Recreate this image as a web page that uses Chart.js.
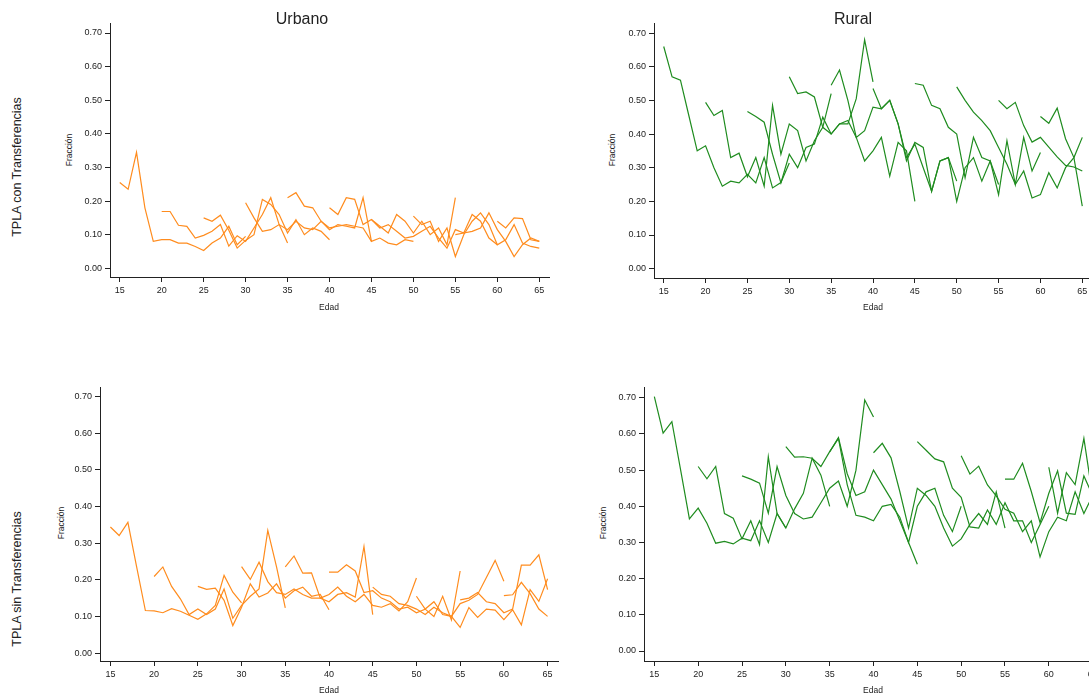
<!DOCTYPE html>
<html>
<head>
<meta charset="utf-8">
<script src="https://cdn.jsdelivr.net/npm/chart.js@4.4.1/dist/chart.umd.min.js"></script>
<style>
  html, body { margin: 0; padding: 0; background: #fff; }
  body { width: 1089px; height: 693px; position: relative; overflow: hidden;
         font-family: "Liberation Sans", Arial, Helvetica, sans-serif; color: #222; }
  canvas { position: absolute; }
  .lbl { position: absolute; white-space: nowrap; transform: translate(-50%, -50%); line-height: 1; }
  .rot { transform: translate(-50%, -50%) rotate(-90deg); }
</style>
</head>
<body>
<script>
// Age of each cohort at its first observation; every cohort is followed for 15 years.
const cohortStarts = [15, 20, 25, 30, 35, 40, 45, 50, 55, 60];
const ageTicks = [15, 20, 25, 30, 35, 40, 45, 50, 55, 60, 65];
const fracTicks = [0, 0.1, 0.2, 0.3, 0.4, 0.5, 0.6, 0.7];

// TPLA con transferencias - Urbano
const urbanoCon = [
  [.255,.235,.345,.18,.08,.085,.085,.075,.075,.065,.053,.075,.09,.125,.07,.095],
  [.169,.169,.128,.125,.09,.098,.11,.13,.066,.097,.08,.12,.16,.21,.13,.075],
  [.15,.14,.158,.113,.06,.083,.10,.205,.19,.16,.105,.145,.10,.12,.11,.085],
  [.195,.15,.11,.115,.13,.115,.14,.12,.115,.14,.12,.125,.13,.125,.12,.08],
  [.21,.225,.185,.18,.14,.115,.13,.125,.12,.21,.08,.09,.075,.07,.085,.08],
  [.18,.16,.21,.205,.13,.145,.125,.105,.16,.14,.105,.14,.10,.12,.07,.21],
  [.145,.12,.13,.11,.09,.095,.11,.125,.09,.06,.115,.105,.16,.14,.09,.07],
  [.155,.13,.14,.08,.12,.035,.10,.14,.165,.13,.07,.085,.13,.075,.065,.06],
  [.10,.105,.11,.12,.165,.115,.08,.035,.07,.09,.08],
  [.14,.12,.15,.148,.085,.08]
];

// TPLA con transferencias - Rural
const ruralCon = [
  [.66,.57,.56,.455,.35,.365,.30,.245,.26,.255,.28,.255,.33,.24,.256,.314],
  [.494,.455,.47,.33,.343,.273,.33,.245,.485,.34,.43,.41,.32,.38,.42,.52],
  [.467,.452,.435,.34,.255,.34,.30,.36,.37,.45,.40,.43,.43,.505,.68,.555],
  [.57,.52,.525,.51,.42,.40,.43,.44,.39,.32,.35,.39,.275,.375,.35,.20],
  [.545,.59,.50,.39,.41,.48,.475,.50,.43,.33,.37,.30,.23,.32,.33,.26],
  [.535,.475,.50,.43,.32,.375,.36,.23,.32,.33,.20,.30,.33,.26,.32,.25],
  [.55,.545,.485,.475,.42,.40,.27,.39,.33,.32,.22,.38,.25,.39,.29,.345],
  [.54,.50,.465,.44,.41,.36,.31,.25,.29,.21,.22,.285,.24,.30,.33,.39],
  [.50,.475,.494,.425,.376,.39,.361,.332,.307,.302,.29],
  [.452,.432,.477,.386,.33,.186]
];

// TPLA sin transferencias - Urbano
const urbanoSin = [
  [.344,.321,.357,.235,.116,.115,.11,.121,.114,.103,.092,.107,.13,.212,.166,.137],
  [.209,.235,.182,.148,.105,.12,.105,.12,.175,.095,.13,.155,.175,.335,.235,.123],
  [.182,.174,.177,.144,.075,.125,.189,.153,.164,.189,.15,.17,.18,.155,.16,.118],
  [.236,.201,.248,.195,.165,.16,.175,.16,.15,.15,.14,.16,.165,.153,.291,.105],
  [.235,.265,.218,.219,.15,.16,.18,.155,.14,.16,.13,.125,.135,.115,.14,.205],
  [.221,.221,.241,.224,.165,.17,.15,.14,.12,.125,.11,.12,.10,.155,.09,.224],
  [.18,.16,.155,.135,.13,.12,.105,.125,.11,.10,.135,.144,.16,.206,.253,.196],
  [.155,.12,.14,.105,.10,.07,.124,.097,.12,.117,.091,.118,.077,.173,.141,.203],
  [.145,.15,.165,.14,.135,.11,.12,.24,.24,.268,.173],
  [.157,.159,.193,.162,.12,.10]
];

// TPLA sin transferencias - Rural
const ruralSin = [
  [.703,.602,.634,.50,.365,.395,.353,.298,.303,.296,.312,.305,.36,.30,.38,.34],
  [.51,.476,.51,.38,.367,.31,.36,.294,.537,.38,.34,.393,.436,.533,.486,.40],
  [.484,.475,.464,.381,.51,.43,.38,.365,.37,.41,.45,.47,.40,.50,.694,.647],
  [.565,.536,.537,.533,.51,.551,.588,.46,.375,.37,.36,.40,.405,.37,.30,.24],
  [.55,.59,.49,.43,.44,.50,.46,.42,.36,.30,.40,.44,.45,.375,.33,.40],
  [.548,.574,.534,.441,.34,.45,.43,.40,.34,.29,.31,.35,.38,.35,.44,.34],
  [.579,.555,.531,.523,.45,.425,.343,.34,.39,.35,.41,.36,.36,.30,.35,.40],
  [.54,.489,.511,.459,.429,.392,.381,.33,.36,.26,.33,.37,.36,.44,.38,.43],
  [.475,.475,.519,.441,.355,.436,.498,.381,.378,.484,.43],
  [.508,.381,.493,.46,.588,.427]
];

const ORANGE = '#ff8c1e';
const GREEN = '#1f8c1f';
const AXIS = '#222';
const FONT = '"Liberation Sans", Arial, Helvetica, sans-serif';

// Plot-area placement of each panel and its axis ranges.
const panels = [
  { series: urbanoCon, color: ORANGE, area: { l: 110.3, r: 549.0, t: 22.7, b: 276.7 }, x: [13.84, 66.16], y: [-0.0259, 0.7286] },
  { series: ruralCon,  color: GREEN,  area: { l: 654.3, r: 1092.7, t: 22.7, b: 277.3 }, x: [13.84, 66.16], y: [-0.0277, 0.7286] },
  { series: urbanoSin, color: ORANGE, area: { l: 100.3, r: 558.6, t: 386.7, b: 660.7 }, x: [13.81, 66.19], y: [-0.0218, 0.7254] },
  { series: ruralSin,  color: GREEN,  area: { l: 644.0, r: 1102.9, t: 387.3, b: 661.7 }, x: [13.82, 66.18], y: [-0.0276, 0.7287] }
];

const YW = 34, XH = 36, PAD = 8;

panels.forEach(p => {
  const cv = document.createElement('canvas');
  const w = Math.round(YW + (p.area.r - p.area.l) + PAD);
  const h = Math.round(PAD + (p.area.b - p.area.t) + XH);
  cv.width = w; cv.height = h;
  cv.style.width = w + 'px'; cv.style.height = h + 'px';
  cv.style.left = (p.area.l - YW) + 'px';
  cv.style.top = (p.area.t - PAD) + 'px';
  document.body.appendChild(cv);

  const datasets = p.series.map((vals, k) => ({
    data: vals.map((v, i) => ({ x: cohortStarts[k] + i, y: v })),
    borderColor: p.color,
    borderWidth: 1.2,
    pointRadius: 0,
    fill: false,
    tension: 0
  }));

  new Chart(cv, {
    type: 'line',
    data: { datasets },
    options: {
      responsive: false,
      animation: false,
      devicePixelRatio: 1,
      layout: { padding: { top: PAD, right: PAD, left: 0, bottom: 0 } },
      plugins: { legend: { display: false }, tooltip: { enabled: false } },
      scales: {
        x: {
          type: 'linear', min: p.x[0], max: p.x[1],
          afterBuildTicks: s => { s.ticks = ageTicks.map(v => ({ value: v })); },
          afterFit: s => { s.height = XH; },
          ticks: { font: { family: FONT, size: 9 }, color: '#222', padding: 3, maxRotation: 0,
                   callback: v => String(v) },
          grid: { display: true, drawOnChartArea: false, drawTicks: true, tickLength: 5, color: AXIS, tickWidth: 1 },
          border: { display: true, color: AXIS, width: 1 }
        },
        y: {
          type: 'linear', min: p.y[0], max: p.y[1],
          afterBuildTicks: s => { s.ticks = fracTicks.map(v => ({ value: v })); },
          afterFit: s => { s.width = YW; },
          ticks: { font: { family: FONT, size: 9 }, color: '#222', padding: 3,
                   callback: v => Number(v).toFixed(2) },
          grid: { display: true, drawOnChartArea: false, drawTicks: true, tickLength: 5, color: AXIS, tickWidth: 1 },
          border: { display: true, color: AXIS, width: 1 }
        }
      }
    }
  });
});

// Titles and axis names
const labels = [
  { t: 'Urbano', x: 302, y: 19, s: 16 },
  { t: 'Rural', x: 853, y: 19, s: 16 },
  { t: 'TPLA con Transferencias', x: 17, y: 167, s: 12.5, rot: true },
  { t: 'TPLA sin Transferencias', x: 17, y: 579, s: 12.5, rot: true },
  { t: 'Fracción', x: 68.5, y: 150, s: 8.5, rot: true },
  { t: 'Fracción', x: 612, y: 150, s: 8.5, rot: true },
  { t: 'Fracción', x: 60.7, y: 523, s: 8.5, rot: true },
  { t: 'Fracción', x: 603, y: 523, s: 8.5, rot: true },
  { t: 'Edad', x: 329, y: 307, s: 8.5 },
  { t: 'Edad', x: 873, y: 307, s: 8.5 },
  { t: 'Edad', x: 329, y: 690, s: 8.5 },
  { t: 'Edad', x: 873, y: 690, s: 8.5 }
];
labels.forEach(l => {
  const d = document.createElement('div');
  d.className = 'lbl' + (l.rot ? ' rot' : '');
  d.textContent = l.t;
  d.style.left = l.x + 'px';
  d.style.top = l.y + 'px';
  d.style.fontSize = l.s + 'px';
  document.body.appendChild(d);
});
</script>
</body>
</html>
